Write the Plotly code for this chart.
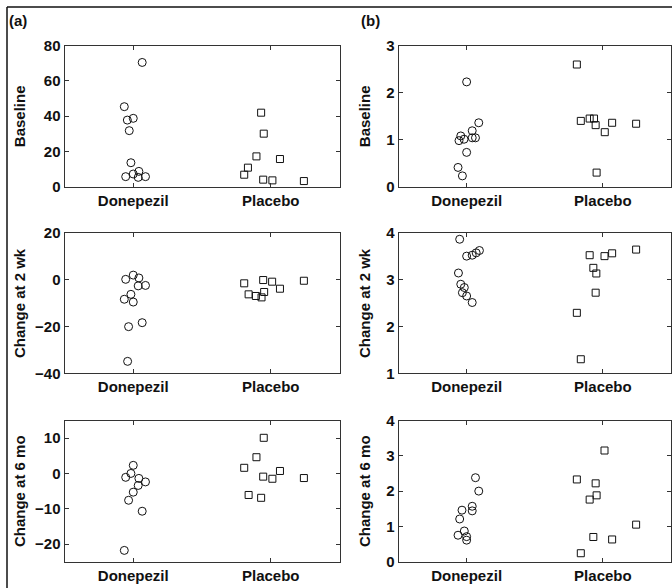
import plotly.graph_objects as go

categories = ["Donepezil", "Placebo"]

# (a) Baseline
a_base_don_x = [1.065, 0.935, 0.957, 1.000, 0.971, 0.983, 0.945, 1.000, 1.041, 1.036, 1.089]
a_base_don_y = [70.5, 45.4, 37.8, 38.8, 31.8, 13.6, 5.7, 7.2, 8.7, 5.3, 5.7]
a_base_pla_x = [1.930, 1.949, 1.896, 1.834, 1.807, 2.067, 1.945, 2.012, 2.241]
a_base_pla_y = [42.0, 30.1, 17.2, 10.8, 6.8, 15.7, 4.0, 3.6, 3.2]

# (a) Change at 2 wk
a_2wk_don_x = [0.945, 1.000, 1.041, 1.036, 1.089, 0.983, 0.935, 1.000, 1.065, 0.966, 0.959]
a_2wk_don_y = [0.1, 1.9, 0.7, -2.7, -2.5, -6.3, -8.4, -9.6, -18.4, -20.1, -34.9]
a_2wk_pla_x = [1.807, 1.839, 1.892, 1.933, 1.945, 1.952, 2.010, 2.067, 2.241]
a_2wk_pla_y = [-1.6, -6.3, -7.0, -7.6, -0.2, -5.3, -0.9, -3.9, -0.5]

# (a) Change at 6 mo
a_6mo_don_x = [1.000, 0.945, 0.983, 1.041, 1.089, 1.036, 1.000, 0.966, 1.065, 0.935]
a_6mo_don_y = [2.3, -1.1, 0.0, -1.4, -2.4, -3.4, -5.3, -7.6, -10.7, -21.8]
a_6mo_pla_x = [1.949, 1.896, 1.807, 2.067, 1.945, 2.012, 2.241, 1.839, 1.930]
a_6mo_pla_y = [10.1, 4.6, 1.6, 0.7, -0.9, -1.5, -1.3, -6.1, -6.9]

# (b) Baseline
b_base_don_x = [1.000, 1.089, 1.041, 0.957, 0.944, 0.981, 1.041, 1.065, 1.000, 0.937, 0.969]
b_base_don_y = [2.23, 1.36, 1.19, 1.08, 0.98, 1.01, 1.04, 1.04, 0.73, 0.41, 0.23]
b_base_pla_x = [1.809, 1.838, 1.903, 1.935, 1.947, 2.014, 2.068, 2.244, 1.954]
b_base_pla_y = [2.60, 1.40, 1.45, 1.45, 1.31, 1.16, 1.36, 1.34, 0.30]

# (b) Change at 2 wk
b_2wk_don_x = [0.949, 1.000, 1.041, 1.070, 1.094, 0.940, 0.957, 0.983, 0.969, 1.000, 1.041]
b_2wk_don_y = [3.86, 3.50, 3.52, 3.57, 3.62, 3.14, 2.90, 2.83, 2.72, 2.65, 2.51]
b_2wk_pla_x = [1.903, 2.012, 2.068, 2.244, 1.930, 1.952, 1.947, 1.809, 1.838]
b_2wk_pla_y = [3.52, 3.50, 3.56, 3.64, 3.25, 3.13, 2.72, 2.29, 1.30]

# (b) Change at 6 mo
b_6mo_don_x = [1.065, 1.089, 1.041, 1.041, 0.966, 0.949, 0.937, 0.983, 1.000, 1.000]
b_6mo_don_y = [2.38, 2.00, 1.57, 1.44, 1.46, 1.21, 0.75, 0.87, 0.71, 0.61]
b_6mo_pla_x = [2.012, 1.809, 1.947, 1.954, 1.903, 2.244, 1.930, 2.068, 1.838]
b_6mo_pla_y = [3.15, 2.33, 2.22, 1.88, 1.76, 1.05, 0.70, 0.63, 0.24]

row_titles = ["Baseline", "Change at 2 wk", "Change at 6 mo"]
a_ranges = [[0, 80], [-40, 20], [-25, 15]]
a_ticks = [[0, 20, 40, 60, 80], [-40, -20, 0, 20], [-20, -10, 0, 10]]
b_ranges = [[0, 3], [1, 4], [0, 4]]
b_ticks = [[0, 1, 2, 3], [1, 2, 3, 4], [0, 1, 2, 3, 4]]

W, H = 672, 588
FONT = "Liberation Sans, Arial, sans-serif"
AX = "#333333"

col_px = [(64.5, 339.5), (398.5, 671.0)]
row_px = [(45.7, 186.7), (232.7, 373.3), (420.5, 561.7)]

def px_x(v):
    return v / W

def px_y(v):
    return 1 - v / H

panels = [
    [(a_base_don_x, a_base_don_y, a_base_pla_x, a_base_pla_y),
     (b_base_don_x, b_base_don_y, b_base_pla_x, b_base_pla_y)],
    [(a_2wk_don_x, a_2wk_don_y, a_2wk_pla_x, a_2wk_pla_y),
     (b_2wk_don_x, b_2wk_don_y, b_2wk_pla_x, b_2wk_pla_y)],
    [(a_6mo_don_x, a_6mo_don_y, a_6mo_pla_x, a_6mo_pla_y),
     (b_6mo_don_x, b_6mo_don_y, b_6mo_pla_x, b_6mo_pla_y)],
]

fig = go.Figure()
layout = {}
annotations = []
n = 0
for r in range(3):
    for c in range(2):
        n += 1
        xa = "x" if n == 1 else f"x{n}"
        ya = "y" if n == 1 else f"y{n}"
        dx, dy, plx, ply = panels[r][c]
        fig.add_trace(go.Scatter(
            x=dx, y=dy, xaxis=xa, yaxis=ya, mode="markers",
            marker=dict(symbol="circle-open", size=8, color="#111111",
                        line=dict(width=1, color="#111111")),
            showlegend=False, hoverinfo="skip"))
        fig.add_trace(go.Scatter(
            x=plx, y=ply, xaxis=xa, yaxis=ya, mode="markers",
            marker=dict(symbol="square-open", size=7, color="#111111",
                        line=dict(width=1, color="#111111")),
            showlegend=False, hoverinfo="skip"))
        x0, x1 = col_px[c]
        y0, y1 = row_px[r]
        rng = a_ranges[r] if c == 0 else b_ranges[r]
        tks = a_ticks[r] if c == 0 else b_ticks[r]
        layout["xaxis" if n == 1 else f"xaxis{n}"] = dict(
            domain=[px_x(x0), px_x(x1)], anchor=ya, range=[0.5, 2.5],
            tickvals=[1, 2], ticktext=categories, ticks="inside", ticklen=4,
            tickcolor=AX, showline=True, linecolor=AX, linewidth=1,
            mirror="allticks", showgrid=False, zeroline=False, fixedrange=True,
            automargin=False,
            tickfont=dict(family=FONT, size=15, color="#111111", weight="bold"))
        layout["yaxis" if n == 1 else f"yaxis{n}"] = dict(
            domain=[px_y(y1), px_y(y0)], anchor=xa, range=rng,
            tickvals=tks, ticks="inside", ticklen=4, tickcolor=AX,
            showline=True, linecolor=AX, linewidth=1, mirror="allticks",
            showgrid=False, zeroline=False, fixedrange=True, automargin=False,
            tickfont=dict(family=FONT, size=15, color="#111111", weight="bold"))
        annotations.append(dict(
            text=row_titles[r], textangle=-90, xref="paper", yref="paper",
            x=px_x(19 if c == 0 else 364), y=px_y((y0 + y1) / 2),
            xanchor="center", yanchor="middle", showarrow=False,
            font=dict(family=FONT, size=15, color="#111111", weight="bold")))

annotations.append(dict(text="(a)", xref="paper", yref="paper", x=px_x(7), y=px_y(21),
                        xanchor="left", yanchor="middle", showarrow=False,
                        font=dict(family=FONT, size=15, color="#111111", weight="bold")))
annotations.append(dict(text="(b)", xref="paper", yref="paper", x=px_x(359), y=px_y(21),
                        xanchor="left", yanchor="middle", showarrow=False,
                        font=dict(family=FONT, size=15, color="#111111", weight="bold")))

fig.update_layout(
    template="none",
    width=W, height=H, margin=dict(l=0, r=0, t=0, b=0, pad=0), autosize=False,
    paper_bgcolor="white", plot_bgcolor="white",
    annotations=annotations,
    shapes=[dict(type="line", xref="paper", yref="paper", x0=px_x(7), x1=1.01,
                 y0=px_y(7), y1=px_y(7), line=dict(color="#111111", width=1.5)),
            dict(type="line", xref="paper", yref="paper", x0=px_x(7), x1=px_x(7),
                 y0=px_y(7), y1=-0.01, line=dict(color="#111111", width=1.5))],
    **layout)

fig.write_html("out.html", config={"displayModeBar": False, "responsive": False},
               post_script="document.body.style.margin='0';document.body.style.overflow='hidden';")
